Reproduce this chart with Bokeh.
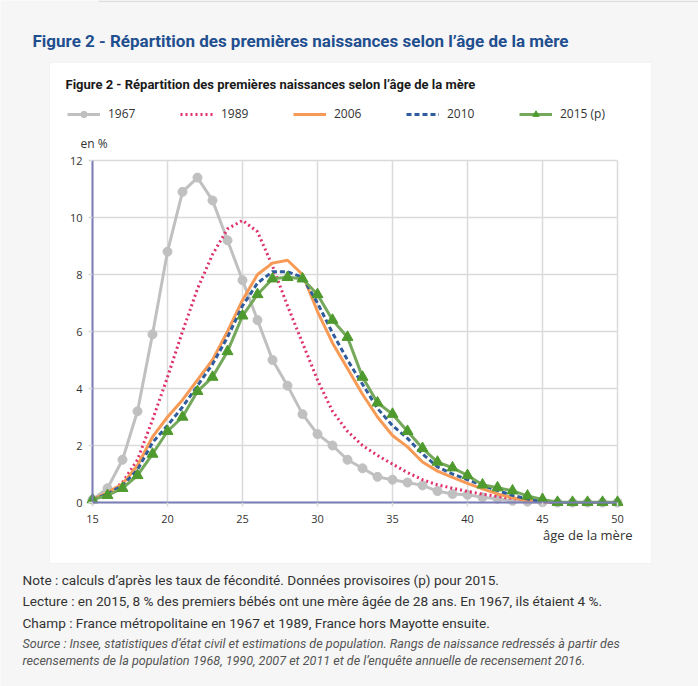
from bokeh.plotting import figure
from bokeh.models import Range1d, FixedTicker, Label, BoxAnnotation, Legend, LegendItem
from bokeh.embed import file_html
from bokeh.resources import INLINE

ages = list(range(15, 51))
v1967 = [0.1, 0.5, 1.5, 3.2, 5.9, 8.8, 10.9, 11.4, 10.6, 9.2, 7.8, 6.4, 5.0, 4.1, 3.1, 2.4,
         2.0, 1.5, 1.2, 0.9, 0.8, 0.7, 0.6, 0.4, 0.3, 0.27, 0.18, 0.13, 0.06, 0.03, 0.01,
         0, 0, 0, 0, 0]
v1989 = [0.1, 0.3, 0.7, 1.5, 2.9, 4.4, 6.0, 7.5, 8.7, 9.6, 9.9, 9.5, 8.3, 6.9, 5.6, 4.3,
         3.2, 2.5, 2.0, 1.65, 1.35, 1.05, 0.8, 0.62, 0.5, 0.39, 0.29, 0.21, 0.14, 0.08, 0.03,
         0, 0, 0, 0, 0]
v2006 = [0.1, 0.35, 0.65, 1.3, 2.3, 3.0, 3.6, 4.3, 5.0, 6.0, 7.1, 8.0, 8.4, 8.5, 8.0, 6.7,
         5.6, 4.7, 3.8, 3.0, 2.35, 1.95, 1.42, 1.1, 0.88, 0.67, 0.48, 0.3, 0.17, 0.07, 0.02,
         0, 0, 0, 0, 0]
v2010 = [0.1, 0.3, 0.6, 1.15, 2.1, 2.7, 3.35, 4.1, 4.85, 5.8, 6.9, 7.7, 8.1, 8.1, 7.9, 7.0,
         5.95, 5.0, 4.15, 3.3, 2.7, 2.25, 1.7, 1.25, 1.0, 0.8, 0.6, 0.42, 0.25, 0.12, 0.04,
         0, 0, 0, 0, 0]
v2015 = [0.1, 0.25, 0.5, 0.95, 1.7, 2.5, 3.0, 3.9, 4.4, 5.3, 6.55, 7.3, 7.85, 7.9, 7.85, 7.3,
         6.4, 5.8, 4.4, 3.5, 3.1, 2.5, 1.9, 1.42, 1.22, 0.95, 0.62, 0.52, 0.41, 0.23, 0.11,
         0.01, 0.01, 0.01, 0.01, 0.01]

x_ticks = [15, 20, 25, 30, 35, 40, 45, 50]
y_ticks = [0, 2, 4, 6, 8, 10, 12]
X_MIN, X_MAX = 15, 50
Y_MIN, Y_MAX = 0, 12

outer_title = "Figure 2 - Répartition des premières naissances selon l’âge de la mère"
inner_title = "Figure 2 - Répartition des premières naissances selon l’âge de la mère"
y_title = "en %"
x_title = "âge de la mère"
notes = [
    "Note : calculs d’après les taux de fécondité. Données provisoires (p) pour 2015.",
    "Lecture : en 2015, 8 % des premiers bébés ont une mère âgée de 28 ans. En 1967, ils étaient 4 %.",
    "Champ : France métropolitaine en 1967 et 1989, France hors Mayotte ensuite.",
]
source = [
    "Source : Insee, statistiques d’état civil et estimations de population. Rangs de naissance redressés à partir des",
    "recensements de la population 1968, 1990, 2007 et 2011 et de l’enquête annuelle de recensement 2016.",
]

HEAD = "Roboto"
SANS = "Open Sans"

W, H = 698, 686
# plot area in canvas pixels: x 15 -> 92, 50 -> 617 ; y 0 -> 502, 12 -> 160
PX_L, PX_R, PX_T, PX_B = 92, 617, 160, 502
xs = (PX_R - PX_L) / (X_MAX - X_MIN)
ys = (PX_B - PX_T) / (Y_MAX - Y_MIN)
x_range = Range1d(X_MIN - PX_L / xs, X_MAX + (W - PX_R) / xs)
y_range = Range1d(Y_MIN - (H - PX_B) / ys, Y_MAX + PX_T / ys)

p = figure(width=W, height=H, x_range=x_range, y_range=y_range, title=None,
           output_backend="svg", toolbar_location=None,
           min_border=0, min_border_left=0, min_border_right=0, min_border_top=0, min_border_bottom=0,
           border_fill_color="#f6f6f6", background_fill_color="#f6f6f6", outline_line_color=None)

# white panel + top strip
p.add_layout(BoxAnnotation(left=49, right=651, top=62, bottom=563,
                           left_units="canvas", right_units="canvas", top_units="canvas", bottom_units="canvas",
                           fill_color="white", fill_alpha=1, line_color="#e2e2e2", line_width=1, level="image"))
p.add_layout(BoxAnnotation(left=98, right=698, top=0, bottom=1.5,
                           left_units="canvas", right_units="canvas", top_units="canvas", bottom_units="canvas",
                           fill_color="#dddddd", fill_alpha=1, line_color=None, level="image"))

p.xaxis.fixed_location = Y_MIN
p.yaxis.fixed_location = X_MIN
p.xaxis.bounds = (X_MIN, X_MAX)
p.yaxis.bounds = (Y_MIN, Y_MAX)
for ax in (p.xaxis[0], p.yaxis[0]):
    ax.axis_line_color = "#7b7db5"
    ax.axis_line_width = 2
    ax.major_tick_line_color = "#d9d9d9"
    ax.major_tick_line_width = 1.5
    ax.major_tick_out = 4
    ax.major_tick_in = 0
    ax.minor_tick_line_color = None
    ax.major_label_text_font = SANS
    ax.major_label_text_font_size = "11px"
    ax.major_label_text_color = "#333333"
p.xaxis.ticker = FixedTicker(ticks=x_ticks)
p.yaxis.ticker = FixedTicker(ticks=y_ticks)
p.xaxis.major_label_standoff = 8
p.yaxis.major_label_standoff = 6
p.grid.visible = False

# grid lines limited to the plotting area, built from the tick lists
p.segment(x0=x_ticks, y0=[Y_MIN] * len(x_ticks), x1=x_ticks, y1=[Y_MAX] * len(x_ticks),
          line_color="#dadada", line_width=1.5)
p.segment(x0=[X_MIN] * len(y_ticks), y0=y_ticks, x1=[X_MAX] * len(y_ticks), y1=y_ticks,
          line_color="#dadada", line_width=1.5)

r67 = p.line(ages, v1967, line_color="#c0c0c0", line_width=3)
s67 = p.scatter(ages, v1967, marker="circle", size=9, fill_color="#c0c0c0", line_color="#c0c0c0")
r89 = p.line(ages, v1989, line_color="#e0306c", line_width=3, line_dash="2 3")
r06 = p.line(ages, v2006, line_color="#f79a55", line_width=3)
r10 = p.line(ages, v2010, line_color="#2f5c9c", line_width=3, line_dash="5 3")
r15 = p.line(ages, v2015, line_color="#74a85a", line_width=3)
s15 = p.scatter(ages, v2015, marker="triangle", size=11, fill_color="#4f9a2e", line_color="#4f9a2e")

LEG_H = 16
legend = Legend(items=[
    LegendItem(label="1967", renderers=[r67, s67]),
    LegendItem(label="1989", renderers=[r89]),
    LegendItem(label="2006", renderers=[r06]),
    LegendItem(label="2010", renderers=[r10]),
    LegendItem(label="2015 (p)", renderers=[r15, s15]),
], orientation="horizontal", location=(67, H - (114 + LEG_H / 2)),
    glyph_width=33, glyph_height=LEG_H, label_standoff=8, label_width=72, label_height=LEG_H,
    spacing=0, padding=0, margin=0, border_line_color=None, background_fill_alpha=0,
    label_text_font=SANS, label_text_font_size="12px", label_text_color="#333333")
p.add_layout(legend, "center")


def lab(x, y, text, size, font=SANS, color="#333333", style="normal", align="left"):
    p.add_layout(Label(x=x, y=y, x_units="canvas", y_units="canvas", text=text,
                       text_font=font, text_font_size=size, text_color=color,
                       text_font_style=style, text_baseline="middle", text_align=align))


lab(32, 40, outer_title, "17px", HEAD, "#1f4f8f", "bold")
lab(65, 84, inner_title, "13px", HEAD, "#1a1a1a", "bold")
lab(80, 143, y_title, "12px")
lab(632, 534, x_title, "13px", align="right")
for i, t in enumerate(notes):
    lab(22, 579 + i * 21.5, t, "13.6px", HEAD, "#333333")
for i, t in enumerate(source):
    lab(22, 643 + i * 17, t, "12.6px", HEAD, "#555555", "italic")

open("out.html", "w").write(file_html(p, INLINE))
